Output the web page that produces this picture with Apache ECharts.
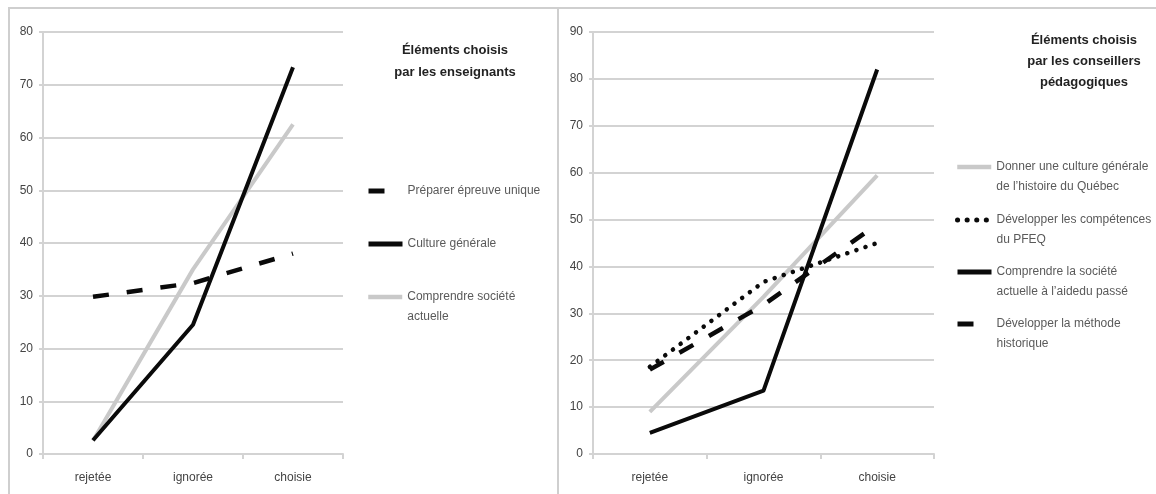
<!DOCTYPE html>
<html>
<head>
<meta charset="utf-8">
<style>
  html, body { margin: 0; padding: 0; background: #ffffff; }
  #chart { width: 1156px; height: 494px; }
</style>
<script src="https://cdn.jsdelivr.net/npm/echarts@6/dist/echarts.min.js"></script>
</head>
<body>
<div id="chart"></div>
<script>
// Categories shared by both panels
const categories = ['rejetée', 'ignorée', 'choisie'];

// Left panel: teachers
const teacherTitle = 'Éléments choisis\npar les enseignants';
const teacherNames = ['Préparer épreuve unique', 'Culture générale', 'Comprendre société actuelle'];
const teacherLabels = ['Préparer épreuve unique', 'Culture générale', 'Comprendre société\nactuelle'];
const preparerEpreuve = [29.8, 32.4, 38];
const cultureGenerale = [2.6, 24.5, 73.3];
const comprendreSociete = [2.5, 35, 62.5];
const teacherTicks = [0, 10, 20, 30, 40, 50, 60, 70, 80];

// Right panel: pedagogical advisers
const advisorTitle = 'Éléments choisis\npar les conseillers\npédagogiques';
const advisorNames = [
  'Donner une culture générale de l’histoire du Québec',
  'Développer les compétences du PFEQ',
  'Comprendre la société actuelle à l’aidedu passé',
  'Développer la méthode historique'
];
const advisorLabels = [
  'Donner une culture générale\nde l’histoire du Québec',
  'Développer les compétences\ndu PFEQ',
  'Comprendre la société\nactuelle à l’aidedu passé',
  'Développer la méthode\nhistorique'
];
const donnerCulture = [9, 33.5, 59.4];
const developperCompetences = [18.6, 36.7, 45];
const comprendreSocieteActuelle = [4.5, 13.5, 82];
const developperMethode = [18, 31.8, 49];
const advisorTicks = [0, 10, 20, 30, 40, 50, 60, 70, 80, 90];

const FONT = '"Liberation Sans Narrow", "Liberation Sans", "Noto Sans", sans-serif';
const GRID_COLOR = '#d3d3d3';
const GRAY_LINE = '#c9c9c9';
const BLACK_LINE = '#0a0a0a';
const DASH = [16, 18];
const DOTS = [0.1, 9.5];

const labelOf = {};
teacherNames.forEach((n, i) => { labelOf[n] = teacherLabels[i]; });
advisorNames.forEach((n, i) => { labelOf[n] = advisorLabels[i]; });

function xAxisFor(gridIndex) {
  return {
    type: 'category', gridIndex, data: categories, boundaryGap: true,
    axisLine: { lineStyle: { color: GRID_COLOR, width: 2 } },
    axisTick: { show: true, length: 5, lineStyle: { color: GRID_COLOR, width: 2 } },
    axisLabel: { color: '#444', fontFamily: FONT, fontSize: 12, margin: 18 }
  };
}
function yAxisFor(gridIndex, ticks) {
  return {
    type: 'value', gridIndex, min: ticks[0], max: ticks[ticks.length - 1],
    interval: ticks[1] - ticks[0],
    axisLine: { show: true, lineStyle: { color: GRID_COLOR, width: 2 } },
    axisTick: { show: true, length: 4, lineStyle: { color: GRID_COLOR, width: 2 } },
    splitLine: { lineStyle: { color: GRID_COLOR, width: 2 } },
    axisLabel: { color: '#444', fontFamily: FONT, fontSize: 12, margin: 10 }
  };
}
function lineSeries(name, data, axisIndex, color, type, width, z) {
  return {
    type: 'line', name, data, xAxisIndex: axisIndex, yAxisIndex: axisIndex,
    symbol: 'none', showSymbol: false, z,
    lineStyle: { color, width, type, cap: type === DOTS ? 'round' : 'butt', join: 'round' },
    itemStyle: { color }
  };
}
// One legend box per entry; a leading blank line keeps the key level with the
// first line of a two-line caption.
function legendEntry(name, left, centerY, keyWidth) {
  const twoLines = labelOf[name].indexOf('\n') >= 0;
  return {
    data: [name], left, top: centerY - (twoLines ? 30 : 10), orient: 'vertical',
    padding: 0, itemWidth: 34, itemHeight: 10, itemGap: 0, selectedMode: false,
    formatter: (n) => (twoLines ? '\n' : '') + labelOf[n],
    itemStyle: { opacity: 0, borderWidth: 0 },
    lineStyle: { width: keyWidth },
    textStyle: { color: '#5a5a5a', fontFamily: FONT, fontSize: 12, lineHeight: 20 }
  };
}

const chart = echarts.init(document.getElementById('chart'), null, { renderer: 'canvas' });
chart.setOption({
  backgroundColor: '#ffffff',
  animation: false,
  graphic: [
    { type: 'rect', shape: { x: 9, y: 8, width: 549, height: 510 }, style: { fill: 'none', stroke: '#cfcfcf', lineWidth: 2 }, silent: true },
    { type: 'rect', shape: { x: 558, y: 8, width: 620, height: 510 }, style: { fill: 'none', stroke: '#cfcfcf', lineWidth: 2 }, silent: true }
  ],
  title: [
    { text: teacherTitle, left: 450, top: 34, textAlign: 'center',
      textStyle: { fontFamily: FONT, fontSize: 13, fontWeight: 'bold', color: '#222', lineHeight: 22 } },
    { text: advisorTitle, left: 1079, top: 25, textAlign: 'center',
      textStyle: { fontFamily: FONT, fontSize: 13, fontWeight: 'bold', color: '#222', lineHeight: 21 } }
  ],
  grid: [
    { left: 43, right: 813, top: 32, bottom: 40 },
    { left: 593, right: 222, top: 32, bottom: 40 }
  ],
  xAxis: [xAxisFor(0), xAxisFor(1)],
  yAxis: [yAxisFor(0, teacherTicks), yAxisFor(1, advisorTicks)],
  legend: [
    legendEntry(teacherNames[0], 366, 191, 5),
    legendEntry(teacherNames[1], 366, 244, 5),
    legendEntry(teacherNames[2], 366, 297, 4.5),
    legendEntry(advisorNames[0], 955, 167, 4.5),
    legendEntry(advisorNames[1], 955, 220, 5),
    legendEntry(advisorNames[2], 955, 272, 5),
    legendEntry(advisorNames[3], 955, 324, 5)
  ],
  series: [
    lineSeries(teacherNames[2], comprendreSociete, 0, GRAY_LINE, 'solid', 4, 2),
    lineSeries(teacherNames[0], preparerEpreuve, 0, BLACK_LINE, DASH, 4.5, 3),
    lineSeries(teacherNames[1], cultureGenerale, 0, BLACK_LINE, 'solid', 4, 4),
    lineSeries(advisorNames[0], donnerCulture, 1, GRAY_LINE, 'solid', 4, 2),
    lineSeries(advisorNames[1], developperCompetences, 1, BLACK_LINE, DOTS, 4.5, 3),
    lineSeries(advisorNames[3], developperMethode, 1, BLACK_LINE, DASH, 4.5, 3),
    lineSeries(advisorNames[2], comprendreSocieteActuelle, 1, BLACK_LINE, 'solid', 4, 4)
  ]
});
</script>
</body>
</html>
